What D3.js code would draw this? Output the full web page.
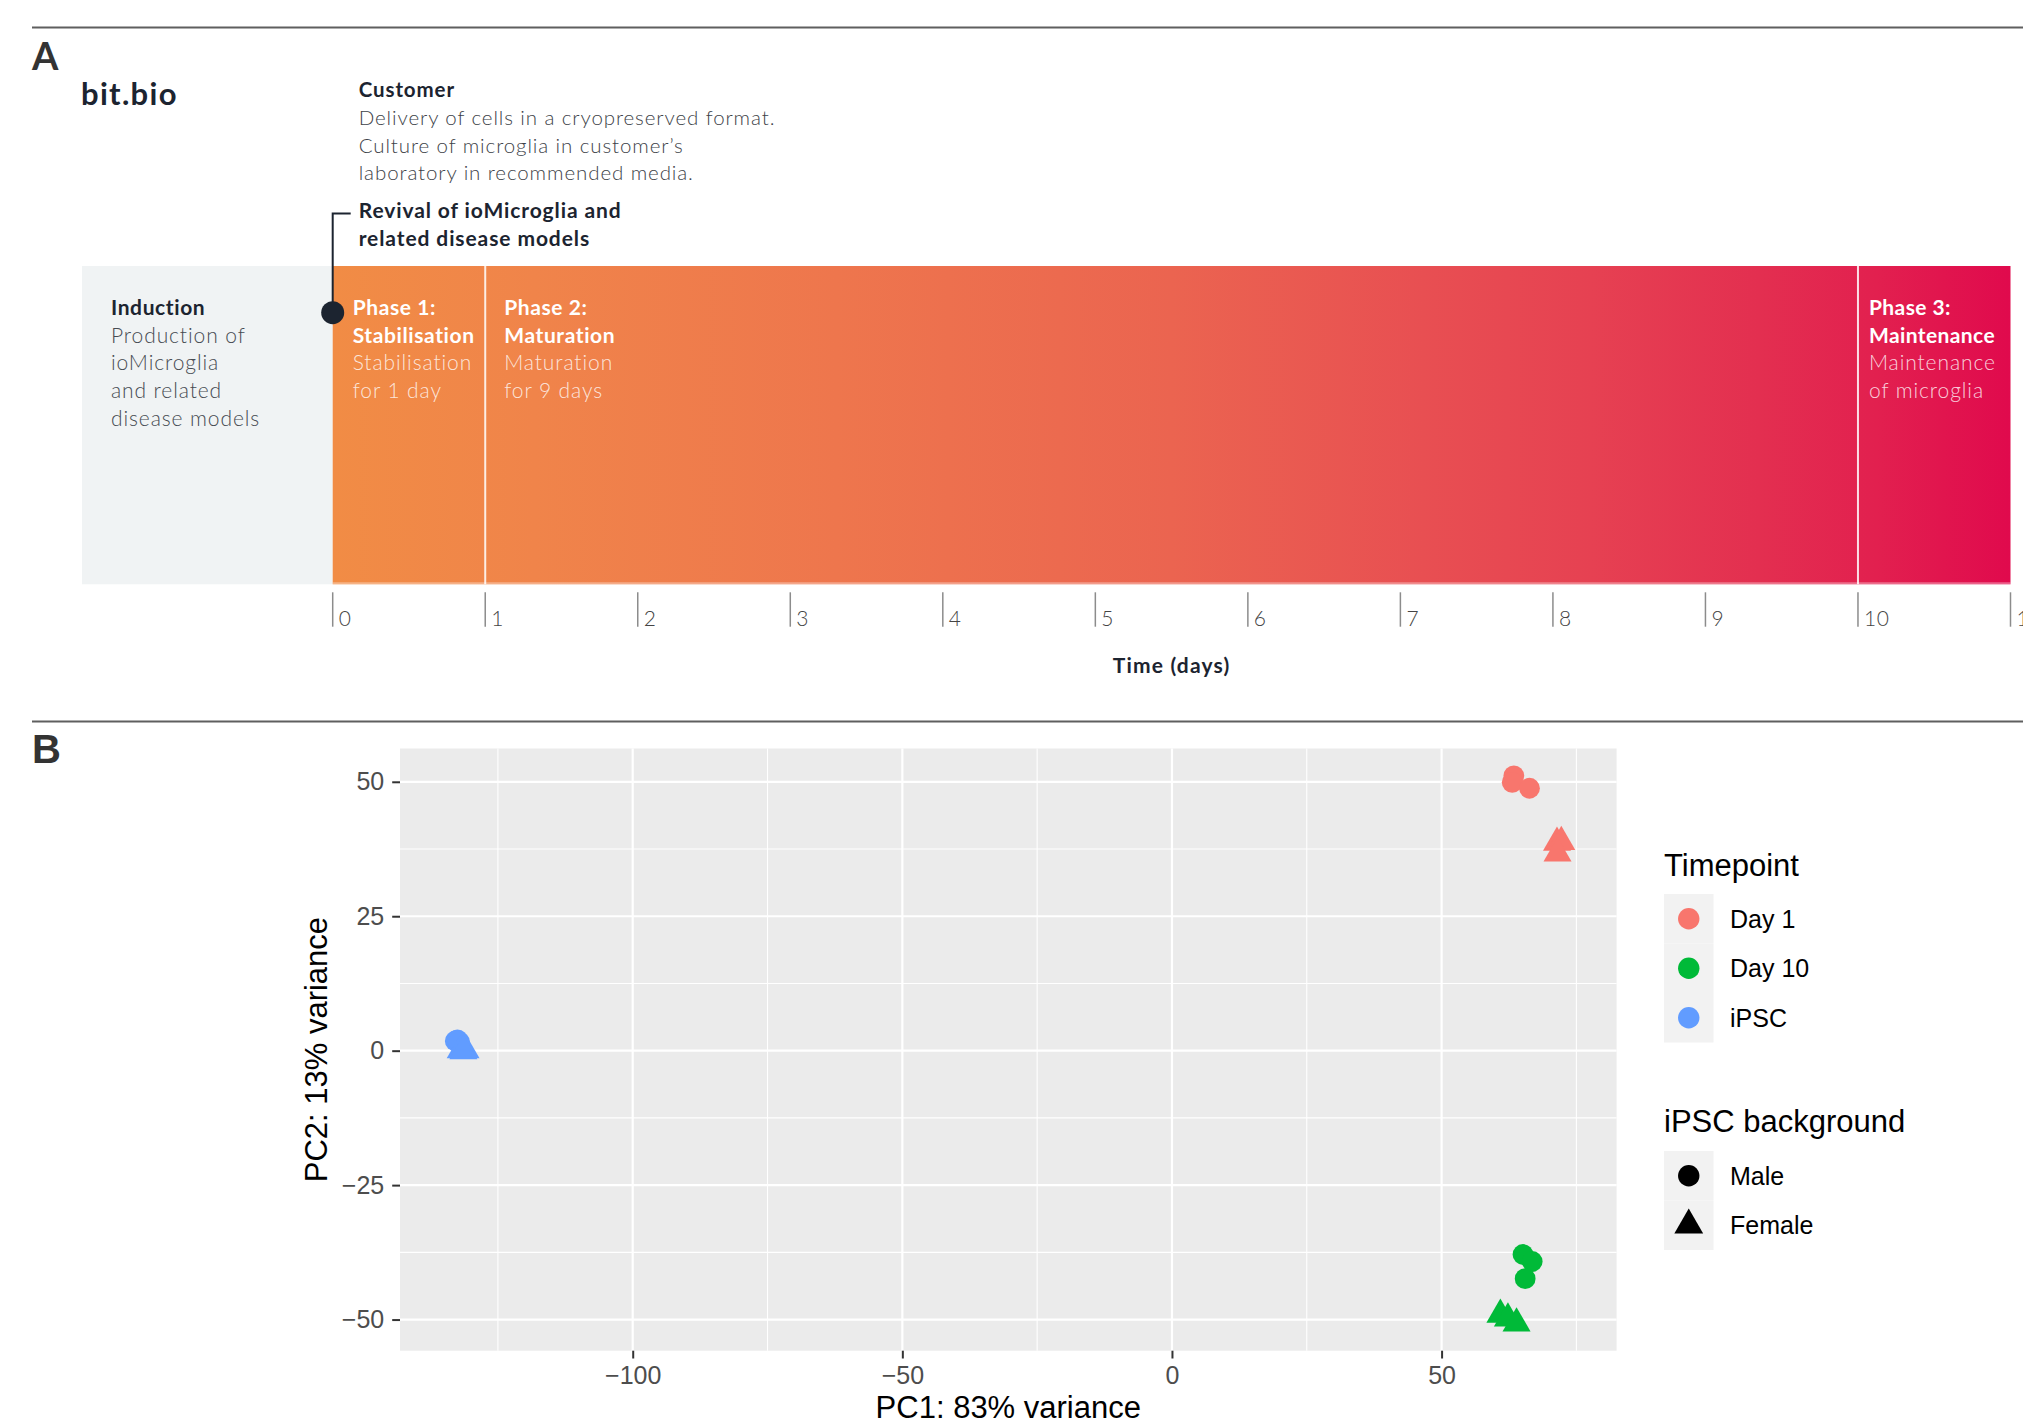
<!DOCTYPE html>
<html><head><meta charset="utf-8">
<script src="https://cdn.jsdelivr.net/npm/d3@7"></script>
<style>body{margin:0;background:#fff}svg{display:block}</style>
</head><body><svg id="c" width="2023" height="1423"></svg>
<script>
// ---------- Panel A data ----------
const dayTicks = [0,1,2,3,4,5,6,7,8,9,10,11];
const phaseStarts = [0,1,10];
const phaseEnds = [1,10,11];
const phaseTitles = [["Phase 1:","Stabilisation"],["Phase 2:","Maturation"],["Phase 3:","Maintenance"]];
const phaseDescs = [["Stabilisation","for 1 day"],["Maturation","for 9 days"],["Maintenance","of microglia"]];
const inductionTitle = "Induction";
const inductionDesc = ["Production of","ioMicroglia","and related","disease models"];
const customerTitle = "Customer";
const customerDesc = ["Delivery of cells in a cryopreserved format.","Culture of microglia in customer\u2019s","laboratory in recommended media."];
const revivalText = ["Revival of ioMicroglia and","related disease models"];
const timeAxisTitle = "Time (days)";

// ---------- Panel B data ----------
const sampleTimepoint = ["Day 1","Day 1","Day 1","Day 1","Day 1","Day 1",
  "Day 10","Day 10","Day 10","Day 10","Day 10","Day 10",
  "iPSC","iPSC","iPSC","iPSC","iPSC","iPSC"];
const sampleSex = ["Male","Male","Male","Female","Female","Female",
  "Male","Male","Male","Female","Female","Female",
  "Male","Male","Male","Female","Female","Female"];
const pc1 = [63.4,63.1,66.3, 71.4,72.2,71.5, 65.1,66.8,65.5, 60.9,62.3,63.9, -132.9,-132.1,-132.5, -131.9,-131.0,-131.4];
const pc2 = [51.1,49.9,48.8, 38.7,38.8,36.7, -37.9,-39.2,-42.4, -49.1,-49.8,-50.7, 1.8,1.6,2.0, 0.1,0.1,-0.1];
const timepoints = ["Day 1","Day 10","iPSC"];
const timepointColors = ["#F8766D","#00BA38","#619CFF"];
const sexes = ["Male","Female"];
const xTicks = [-100,-50,0,50];
const xMinor = [-125,-75,-25,25,75];
const yTicks = [-50,-25,0,25,50];
const yMinor = [-37.5,-12.5,12.5,37.5];

const W = 2023, H = 1423;
const svg = d3.select("#c");
const fontA = "Lato, 'Open Sans', 'Noto Sans', sans-serif";
const fontB = "'Liberation Sans', Arial, Helvetica, sans-serif";
const dark = "#1c2430";
const lsBody = 0.9, lsBold = 0.9;

// ================= Panel A =================
svg.append("line").attr("x1",32).attr("x2",W).attr("y1",27.5).attr("y2",27.5)
  .attr("stroke","#5f5f5f").attr("stroke-width",2);
svg.append("text").attr("x",32).attr("y",70).text("A")
  .attr("font-family",fontA).attr("font-weight",700).attr("font-size",38).attr("fill","#333");
svg.append("text").attr("x",81).attr("y",105).text("bit.bio").attr("letter-spacing",1.3)
  .attr("font-family",fontA).attr("font-weight",700).attr("font-size",31).attr("fill",dark);

const day = d3.scaleLinear().domain([0,11]).range([332.7,2010.5]);
const barTop = 266, barBot = 584.3;

const defs = svg.append("defs");
const grad = defs.append("linearGradient").attr("id","barGrad")
  .attr("gradientUnits","userSpaceOnUse")
  .attr("x1",day(0)).attr("x2",day(11)).attr("y1",0).attr("y2",0);
const gradStops = [[0,"#F18C45"],[0.12,"#F0844A"],[0.3,"#EE764D"],[0.5,"#EB6450"],[0.65,"#E84F52"],[0.75,"#E64152"],[0.85,"#E32F50"],[0.92,"#E2204F"],[1,"#E00A4D"]];
grad.selectAll("stop").data(gradStops).join("stop")
  .attr("offset",d=>d[0]).attr("stop-color",d=>d[1]);

// Induction box
svg.append("rect").attr("x",82).attr("y",barTop).attr("width",day(0)-82).attr("height",barBot-barTop)
  .attr("fill","#F0F3F4");
// Gradient bar
svg.append("rect").attr("x",day(0)).attr("y",barTop).attr("width",day(11)-day(0)).attr("height",barBot-barTop)
  .attr("fill","url(#barGrad)");
svg.append("line").attr("x1",day(0)).attr("x2",day(11)).attr("y1",barBot-1).attr("y2",barBot-1)
  .attr("stroke","#fff").attr("stroke-opacity",0.35).attr("stroke-width",2);
// separators
svg.selectAll("line.sep").data(phaseStarts.slice(1)).join("line").attr("class","sep")
  .attr("x1",d=>day(d)).attr("x2",d=>day(d)).attr("y1",barTop).attr("y2",barBot)
  .attr("stroke","#fff").attr("stroke-opacity",0.85).attr("stroke-width",2);

// phase texts
const phaseOffsets = [20,19,11];
phaseStarts.forEach((s,i)=>{
  const x = day(s)+phaseOffsets[i];
  const t = svg.append("g").attr("font-family",fontA).attr("font-size",21);
  phaseTitles[i].forEach((ln,j)=>t.append("text").attr("x",x).attr("y",315+j*27.7).text(ln)
    .attr("font-weight",700).attr("letter-spacing",i===2?0.4:0.6).attr("fill","#fff"));
  phaseDescs[i].forEach((ln,j)=>t.append("text").attr("x",x).attr("y",370.4+j*27.7).text(ln)
    .attr("font-weight",300).attr("letter-spacing",lsBody).attr("fill","#fff").attr("fill-opacity",0.8));
});
// induction text
const ind = svg.append("g").attr("font-family",fontA).attr("font-size",21);
ind.append("text").attr("x",111).attr("y",315).text(inductionTitle).attr("font-weight",700)
  .attr("letter-spacing",0.6).attr("fill",dark);
inductionDesc.forEach((ln,j)=>ind.append("text").attr("x",111).attr("y",342.7+j*27.7).text(ln)
  .attr("font-weight",300).attr("letter-spacing",lsBody).attr("fill","#464b52"));

// customer text
const cust = svg.append("g").attr("font-family",fontA);
cust.append("text").attr("x",day(0)+26).attr("y",96.7).text(customerTitle)
  .attr("font-weight",700).attr("font-size",20.5).attr("letter-spacing",lsBold).attr("fill",dark);
customerDesc.forEach((ln,j)=>cust.append("text").attr("x",day(0)+26).attr("y",125+j*27.5).text(ln)
  .attr("font-weight",300).attr("font-size",20.5).attr("letter-spacing",lsBody).attr("fill","#3d4248"));
revivalText.forEach((ln,j)=>cust.append("text").attr("x",day(0)+26).attr("y",218.3+j*27.7).text(ln)
  .attr("font-weight",700).attr("font-size",21).attr("letter-spacing",lsBold).attr("fill",dark));

// connector and dot
svg.append("path").attr("d",`M${day(0)+18},213.5H${day(0)}V312.7`)
  .attr("fill","none").attr("stroke",dark).attr("stroke-width",2);
svg.append("circle").attr("cx",day(0)).attr("cy",312.7).attr("r",11.5).attr("fill",dark);

// day axis
const tk = svg.append("g");
tk.selectAll("line").data(dayTicks).join("line")
  .attr("x1",d=>day(d)).attr("x2",d=>day(d)).attr("y1",592.3).attr("y2",626.7)
  .attr("stroke","#8c8c8c").attr("stroke-width",1.5);
tk.selectAll("text").data(dayTicks).join("text")
  .attr("x",d=>day(d)+6).attr("y",626).text(d=>d).attr("letter-spacing",0.5)
  .attr("font-family",fontA).attr("font-weight",300).attr("font-size",21).attr("fill","#444");
svg.append("text").attr("x",day(5.5)).attr("y",673).attr("text-anchor","middle").text(timeAxisTitle)
  .attr("letter-spacing",1.2)
  .attr("font-family",fontA).attr("font-weight",700).attr("font-size",21).attr("fill",dark);

// ================= Panel B =================
svg.append("line").attr("x1",32).attr("x2",W).attr("y1",721.5).attr("y2",721.5)
  .attr("stroke","#5f5f5f").attr("stroke-width",2);
svg.append("text").attr("x",32).attr("y",763).text("B")
  .attr("font-family",fontB).attr("font-weight",700).attr("font-size",40).attr("fill","#333");

const pL = 400, pR = 1616.6, pT = 748.5, pB = 1350.7;
const xe = d3.extent(pc1), ye = d3.extent(pc2);
const xp = 0.05*(xe[1]-xe[0]), yp = 0.05*(ye[1]-ye[0]);
const x = d3.scaleLinear().domain([xe[0]-xp, xe[1]+xp]).range([pL,pR]);
const y = d3.scaleLinear().domain([ye[0]-yp, ye[1]+yp]).range([pB,pT]);
const color = d3.scaleOrdinal().domain(timepoints).range(timepointColors);

svg.append("rect").attr("x",pL).attr("y",pT).attr("width",pR-pL).attr("height",pB-pT).attr("fill","#EBEBEB");
const grid = svg.append("g");
grid.selectAll("line.xm").data(xMinor).join("line").attr("class","xm")
  .attr("x1",d=>x(d)).attr("x2",d=>x(d)).attr("y1",pT).attr("y2",pB).attr("stroke","#fff").attr("stroke-width",1.1);
grid.selectAll("line.ym").data(yMinor).join("line").attr("class","ym")
  .attr("y1",d=>y(d)).attr("y2",d=>y(d)).attr("x1",pL).attr("x2",pR).attr("stroke","#fff").attr("stroke-width",1.1);
grid.selectAll("line.xM").data(xTicks).join("line").attr("class","xM")
  .attr("x1",d=>x(d)).attr("x2",d=>x(d)).attr("y1",pT).attr("y2",pB).attr("stroke","#fff").attr("stroke-width",2.2);
grid.selectAll("line.yM").data(yTicks).join("line").attr("class","yM")
  .attr("y1",d=>y(d)).attr("y2",d=>y(d)).attr("x1",pL).attr("x2",pR).attr("stroke","#fff").attr("stroke-width",2.2);

const sym = d3.symbol().size(340);
const pts = d3.range(pc1.length);
svg.append("g").selectAll("path").data(pts).join("path")
  .attr("transform",i=>`translate(${x(pc1[i])},${y(pc2[i])})`)
  .attr("d",i=>sym.type(sampleSex[i]==="Male"?d3.symbolCircle:d3.symbolTriangle)())
  .attr("fill",i=>color(sampleTimepoint[i]));

function styleAxis(g){
  g.select(".domain").remove();
  g.selectAll(".tick line").attr("stroke","#333").attr("stroke-width",2);
  g.selectAll(".tick text").attr("fill","#4D4D4D").attr("font-family",fontB).attr("font-size",25);
}
svg.append("g").attr("transform",`translate(${pL},0)`)
  .call(d3.axisLeft(y).tickValues(yTicks).tickSize(7.8).tickPadding(8)).call(styleAxis);
svg.append("g").attr("transform",`translate(0,${pB})`)
  .call(d3.axisBottom(x).tickValues(xTicks).tickSize(7.8).tickPadding(8)).call(styleAxis);

svg.append("text").attr("x",(pL+pR)/2).attr("y",1418).attr("text-anchor","middle")
  .text("PC1: 83% variance").attr("font-family",fontB).attr("font-size",31).attr("fill","#000");
svg.append("text").attr("transform",`translate(327,${(pT+pB)/2}) rotate(-90)`).attr("text-anchor","middle")
  .text("PC2: 13% variance").attr("font-family",fontB).attr("font-size",31).attr("fill","#000");

// Legends
const lx = 1664, key = 49.5;
const lg = svg.append("g").attr("font-family",fontB);
lg.append("text").attr("x",lx).attr("y",876).text("Timepoint").attr("font-size",31).attr("fill","#000");
timepoints.forEach((t,i)=>{
  const cy = 894 + i*key;
  lg.append("rect").attr("x",lx).attr("y",cy).attr("width",key).attr("height",key).attr("fill","#F2F2F2");
  lg.append("path").attr("transform",`translate(${lx+key/2},${cy+key/2})`)
    .attr("d",d3.symbol().type(d3.symbolCircle).size(360)()).attr("fill",color(t));
  lg.append("text").attr("x",lx+66).attr("y",cy+key/2+9).text(t).attr("font-size",25).attr("fill","#000");
});
lg.append("text").attr("x",lx).attr("y",1132).text("iPSC background").attr("font-size",31).attr("fill","#000");
sexes.forEach((s,i)=>{
  const cy = 1151 + i*key;
  lg.append("rect").attr("x",lx).attr("y",cy).attr("width",key).attr("height",key).attr("fill","#F2F2F2");
  lg.append("path").attr("transform",`translate(${lx+key/2},${cy+key/2})`)
    .attr("d",d3.symbol().type(s==="Male"?d3.symbolCircle:d3.symbolTriangle).size(360)()).attr("fill","#000");
  lg.append("text").attr("x",lx+66).attr("y",cy+key/2+9).text(s).attr("font-size",25).attr("fill","#000");
});
</script></body></html>
